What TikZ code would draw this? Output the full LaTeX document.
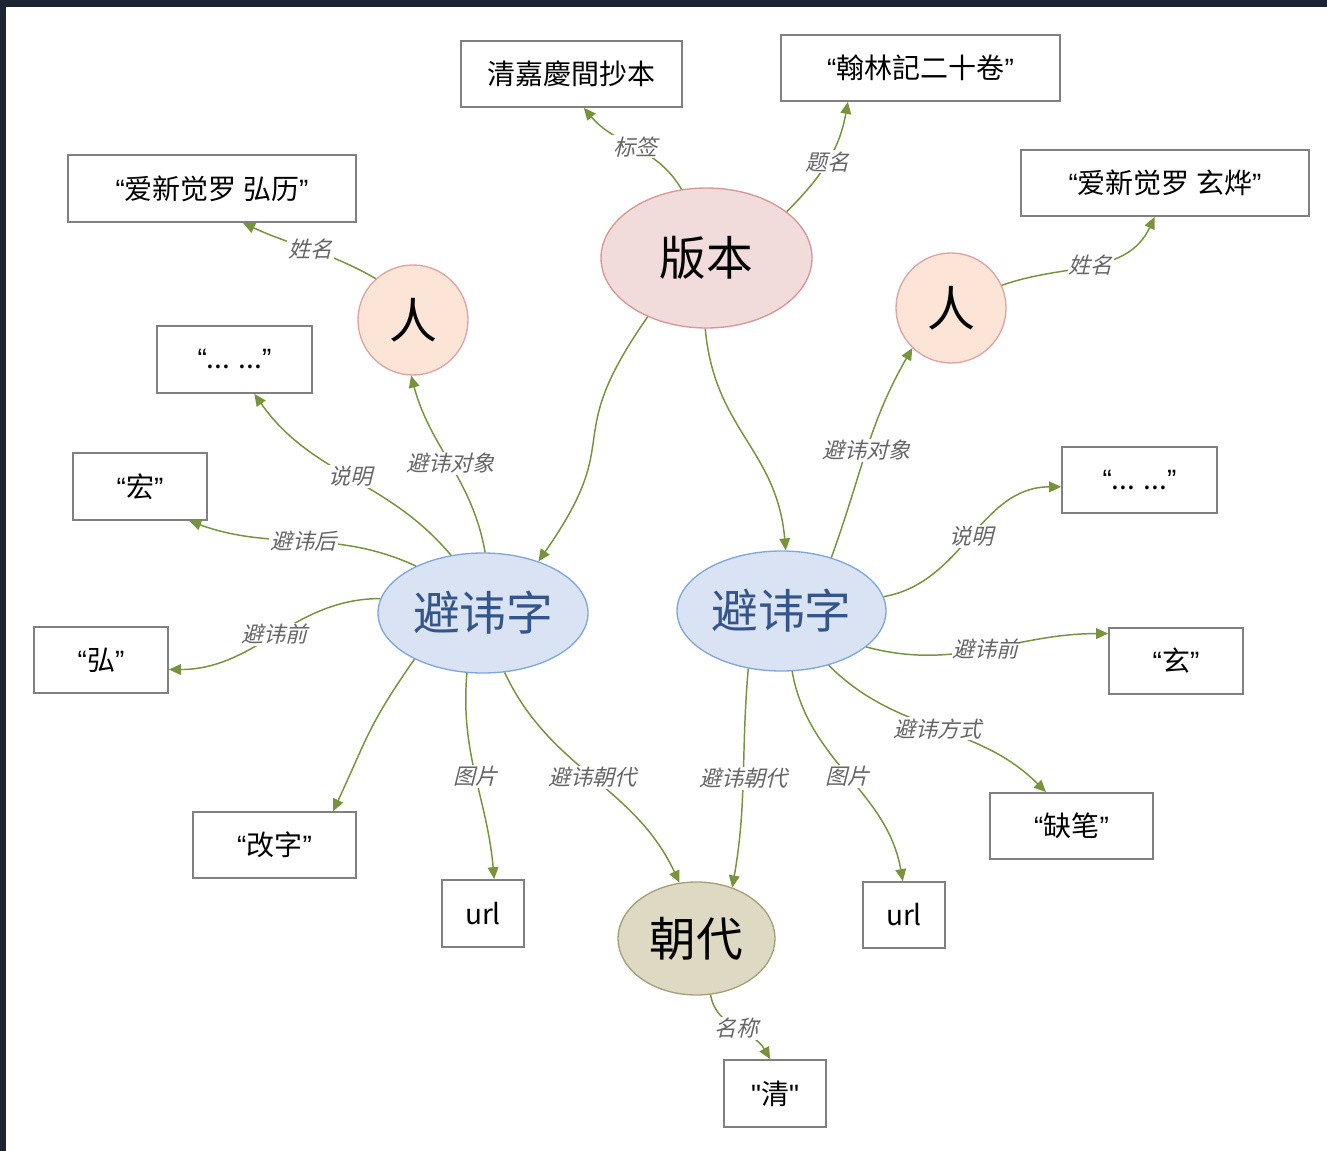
\documentclass[tikz,border=0pt]{standalone}
\usepackage{fontspec}
\setmainfont{Noto Sans CJK SC}
\newfontfamily\latq{Liberation Sans}
\newfontfamily\lblfont[FakeSlant=0.25]{Noto Sans CJK SC}
\usetikzlibrary{shapes.geometric,arrows.meta}
\definecolor{edgec}{HTML}{77933C}
\definecolor{boxc}{HTML}{808080}
\definecolor{lblc}{HTML}{666666}
\definecolor{bgdark}{HTML}{1C2433}
\definecolor{bbfill}{HTML}{F2DCDB}
\definecolor{bbdraw}{HTML}{D99694}
\definecolor{renfill}{HTML}{FCE4D6}
\definecolor{rendraw}{HTML}{E0A3A3}
\definecolor{bzfill}{HTML}{DAE3F3}
\definecolor{bzdraw}{HTML}{7EA6E0}
\definecolor{bztext}{HTML}{34558A}
\definecolor{cdfill}{HTML}{DDD9C3}
\definecolor{cddraw}{HTML}{A5A07A}
\newcommand{\qo}{{\latq “}}
\newcommand{\qc}{{\latq ”}}
\tikzset{
  box/.style 2 args={draw=boxc, line width=1.3pt, fill=white, inner sep=0pt,
    minimum width=#1*0.75pt, minimum height=#2*0.75pt,
    font=\fontsize{21}{25}\selectfont},
  bigell/.style 2 args={ellipse, line width=1pt, inner sep=0pt,
    minimum width=#1*0.75pt, minimum height=#2*0.75pt,
    font=\fontsize{35}{40}\selectfont},
  rencirc/.style={circle, draw=rendraw, fill=renfill, line width=1pt, inner sep=0pt,
    minimum size=110*0.75pt, font=\fontsize{36}{40}\selectfont},
  edge/.style={draw=edgec, line width=1.1pt, -{Triangle[length=9pt,width=8pt]}},
  lbl/.style={fill=white, inner sep=1pt, text=lblc,
    font=\lblfont\fontsize{16.5}{18}\selectfont}
}
\begin{document}
\begin{tikzpicture}[x=0.75pt,y=-0.75pt]
\useasboundingbox (0,0) rectangle (1327,1151);
\fill[bgdark] (0,0) rectangle (1327,1151);
\fill[white] (6,7) rectangle (1327,1151);

% nodes
\node[box={221}{66}] (t1) at (571.5,74) {清嘉慶間抄本};
\node[box={279}{66}] (t2) at (920.5,68) {\qo{}翰林記二十卷\qc{}};
\node[box={288}{67}] (t3) at (212,188.5) {\qo{}爱新觉罗 弘历\qc{}};
\node[box={288}{66}] (t4) at (1165,183) {\qo{}爱新觉罗 玄烨\qc{}};
\node[bigell={211}{140}, fill=bbfill, draw=bbdraw] (bb) at (706.5,258) {版本};
\node[rencirc] (r1) at (413,320) {人};
\node[rencirc] (r2) at (951,308) {人};
\node[box={155}{67}] (dots1) at (234.5,359.5) {\qo{}... ...\qc{}};
\node[box={134}{67}] (hong2) at (140,486.5) {\qo{}宏\qc{}};
\node[box={134}{66}] (hong1) at (101,660) {\qo{}弘\qc{}};
\node[bigell={210}{120}, fill=bzfill, draw=bzdraw, text=bztext] (bz1) at (483,613) {避讳字};
\node[bigell={209}{120}, fill=bzfill, draw=bzdraw, text=bztext] (bz2) at (781.5,611) {避讳字};
\node[box={155}{66}] (dots2) at (1139.5,480) {\qo{}... ...\qc{}};
\node[box={134}{66}] (xuan) at (1176,661) {\qo{}玄\qc{}};
\node[box={163}{66}] (quebi) at (1071.5,826) {\qo{}缺笔\qc{}};
\node[box={163}{66}] (gaizi) at (274.5,845) {\qo{}改字\qc{}};
\node[box={82}{67}] (url1) at (483,913.5) {url};
\node[box={82}{66}] (url2) at (904,915) {url};
\node[bigell={157}{113}, fill=cdfill, draw=cddraw] (cd) at (696.5,938.5) {朝代};
\node[box={102}{67}] (qing) at (775,1093.5) {{\latq"}清{\latq"}};

% edges
\draw[edge] (bb.110) to[out=120,in=-50] node[lbl]{标签} (t1.-70);
\draw[edge] (bb.30) to[out=45,in=-100] node[lbl]{题名} (t2.-155);
\draw[edge] (bb.-135) to[out=-125,in=55,looseness=1.5] (bz1.43);
\draw[edge] (bb.-91) to[out=-85,in=95,looseness=1.1] (bz2.86);
\draw[edge] (r1.132) to[out=150,in=-25] node[lbl]{姓名} (t3.-48);
\draw[edge] (r2.24) to[out=20,in=-115] node[lbl]{姓名} (t4.-107);
\draw[edge] (bz1.88) to[out=100,in=-75] node[lbl]{避讳对象} (r1.-92);
\draw[edge] (bz1.119) to[out=130,in=-55] node[lbl]{说明} (dots1.-60);
\draw[edge] (bz1.145) to[out=155,in=-20] node[lbl]{避讳后} (hong2.-35);
\draw[edge] (bz1.172) to[out=180,in=0] node[lbl]{避讳前} (hong1.-8);
\draw[edge] (bz1.-146) to[out=-125,in=65,looseness=1.2] (gaizi.30);
\draw[edge] (bz1.-105) to[out=-95,in=95] node[lbl]{图片} (url1.72);
\draw[edge] (bz1.-70) to[out=-65,in=115] node[lbl]{避讳朝代} (cd.107);
\draw[edge] (bz2.47) to[out=70,in=-120] node[lbl]{避讳对象} (r2.-134);
\draw[edge] (bz2.8) to[out=10,in=180] node[lbl]{说明} (dots2.-175);
\draw[edge] (bz2.-23) to[out=-15,in=180] node[lbl]{避讳前} (xuan.158);
\draw[edge] (bz2.-49) to[out=-45,in=135] node[lbl]{避讳方式} (quebi.127);
\draw[edge] (bz2.-80) to[out=-80,in=100] node[lbl]{图片} (url2.92);
\draw[edge] (bz2.-120) to[out=-95,in=80] node[lbl]{避讳朝代} (cd.55);
\draw[edge] (cd.-76) to[out=-80,in=120] node[lbl]{名称} (qing.98);
\end{tikzpicture}
\end{document}
